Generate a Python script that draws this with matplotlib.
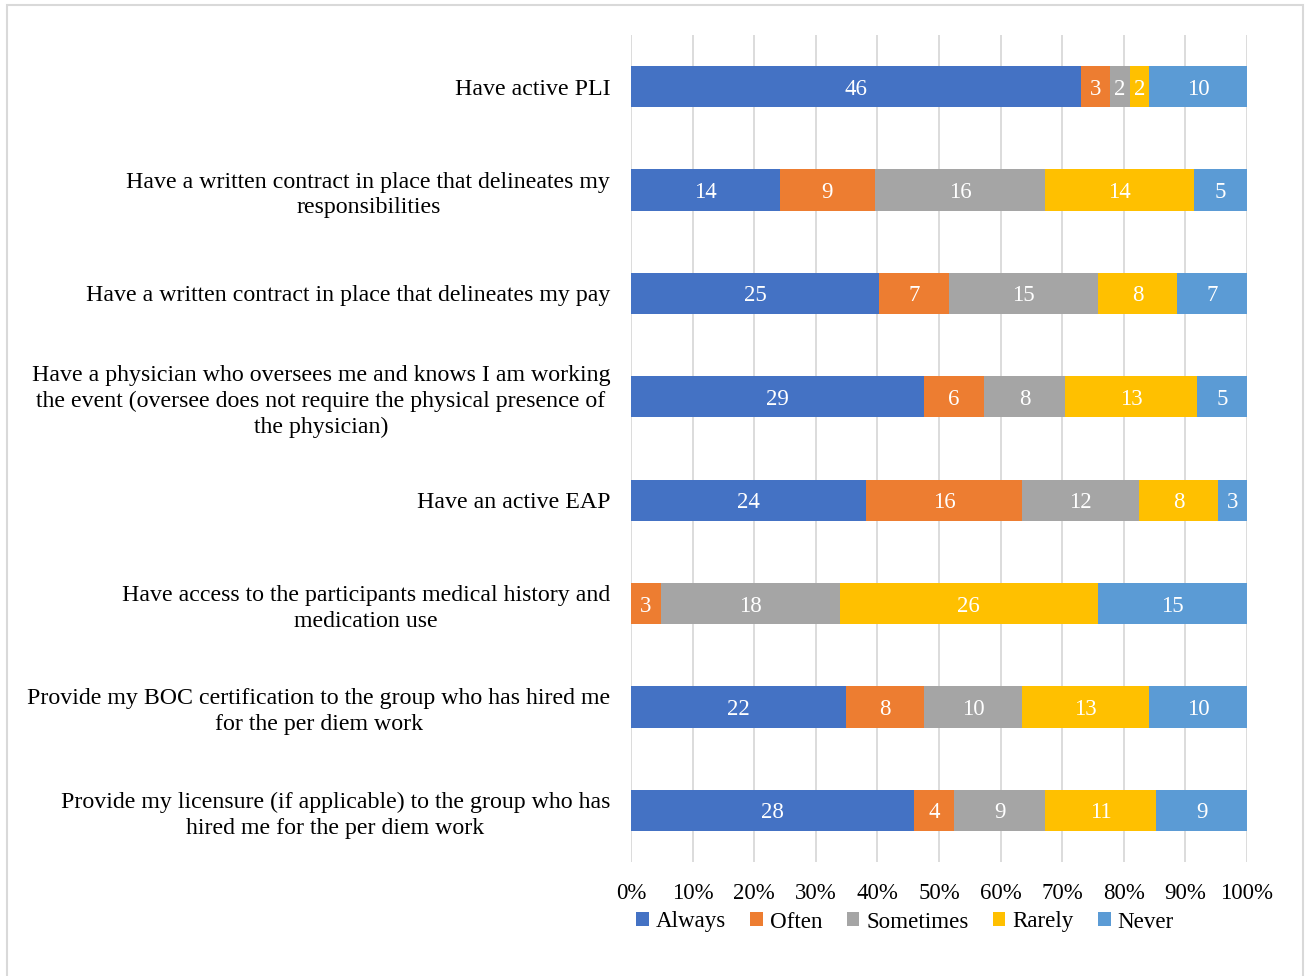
import matplotlib.pyplot as plt
import numpy as np
from matplotlib.patches import Rectangle

plt.rcParams['font.family'] = ['Liberation Serif', 'DejaVu Serif']

questions = [
    "Have active PLI",
    "Have a written contract in place that delineates my\nresponsibilities",
    "Have a written contract in place that delineates my pay",
    "Have a physician who oversees me and knows I am working\nthe event (oversee does not require the physical presence of\nthe physician)",
    "Have an active EAP",
    "Have access to the participants medical history and\nmedication use",
    "Provide my BOC certification to the group who has hired me\nfor the per diem work",
    "Provide my licensure (if applicable) to the group who has\nhired me for the per diem work",
]
answers = ["Always", "Often", "Sometimes", "Rarely", "Never"]
always = [46, 14, 25, 29, 24, 0, 22, 28]
often = [3, 9, 7, 6, 16, 3, 8, 4]
sometimes = [2, 16, 15, 8, 12, 18, 10, 9]
rarely = [2, 14, 8, 13, 8, 26, 13, 11]
never = [10, 5, 7, 5, 3, 15, 10, 9]
colors = ["#4472C4", "#ED7D31", "#A5A5A5", "#FFC000", "#5B9BD5"]

counts = np.array([always, often, sometimes, rarely, never], dtype=float)
shares = counts / counts.sum(axis=0)

fig = plt.figure(figsize=(13.09, 9.76), dpi=100)
fig.patches.append(Rectangle((7 / 1309, -0.05), 1296 / 1309, 1 - 5 / 976 + 0.05,
                             transform=fig.transFigure, fill=False,
                             edgecolor="#D9D9D9", linewidth=1.5))
ax = fig.add_axes([631 / 1309, 1 - 862 / 976, 616 / 1309, 827 / 976])

y = np.arange(len(questions))
left = np.zeros(len(questions))
for i, name in enumerate(answers):
    ax.barh(y, shares[i], left=left, height=0.4, color=colors[i], label=name, zorder=3)
    for j in range(len(questions)):
        if counts[i, j] > 0:
            ax.text(left[j] + shares[i, j] / 2, y[j], f"{int(counts[i, j])}",
                    ha="center", va="center_baseline", color="white",
                    fontsize=16.5, zorder=4)
    left += shares[i]

ax.set_ylim(len(questions) - 0.5, -0.5)
ax.set_xlim(0, 1)
ax.set_xticks(np.linspace(0, 1, 11))
ax.set_xticklabels([f"{int(v)}%" for v in np.linspace(0, 100, 11)], fontsize=16.5)
ax.set_yticks(y)
ax.set_yticklabels(questions, fontsize=17.2, multialignment="center", linespacing=1.3)
ax.tick_params(axis="both", length=0)
ax.tick_params(axis="y", pad=15)
ax.tick_params(axis="x", pad=15)
ax.grid(axis="x", color="#D9D9D9", linewidth=1.3, zorder=0)
for s in ax.spines.values():
    s.set_visible(False)

ax.legend(loc="center", bbox_to_anchor=(905 / 1309, 1 - 922 / 976),
          bbox_transform=fig.transFigure, ncol=5, frameon=False, fontsize=16.6,
          handlelength=0.55, handleheight=0.55, handletextpad=0.3, columnspacing=1.05)

fig.savefig("out.png", dpi=100)
